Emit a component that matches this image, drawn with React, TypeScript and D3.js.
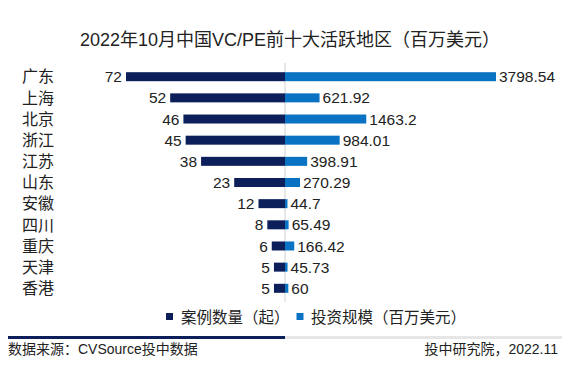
import React from "react";
import * as d3 from "d3";

const categories = ["广东", "上海", "北京", "浙江", "江苏", "山东", "安徽", "四川", "重庆", "天津", "香港"];
const caseCounts = [72, 52, 46, 45, 38, 23, 12, 8, 6, 5, 5];
const investments = [3798.54, 621.92, 1463.2, 984.01, 398.91, 270.29, 44.7, 65.49, 166.42, 45.73, 60];
const investLabels = ["3798.54", "621.92", "1463.2", "984.01", "398.91", "270.29", "44.7", "65.49", "166.42", "45.73", "60"];

const W = 584;
const H = 369;
const CX = 285;
const NAVY = "#0c1f5b";
const BLUE = "#0a72c3";
const FONT = "'Liberation Sans', 'Noto Sans CJK SC', sans-serif";

export default function App() {
  const y = d3.scalePoint<string>().domain(categories).range([76.7, 288.3]);
  const xL = d3.scaleLinear().domain([0, 72]).range([0, 159]);
  const xR = d3.scaleLinear().domain([0, 3798.54]).range([0, 211]);
  const barH = 9;

  return (
    <svg width={W} height={H} style={{ position: "absolute", left: 0, top: 0, background: "#fff" }} fontFamily={FONT}>
      <rect width={W} height={H} fill="#fff" />
      <text x={290} y={46} textAnchor="middle" fontSize={18} fill="#222">
        2022年10月中国VC/PE前十大活跃地区（百万美元）
      </text>
      <line x1={CX} x2={CX} y1={63} y2={302} stroke="#d0d0d0" strokeWidth={1} />
      {categories.map((c, i) => {
        const cy = y(c)!;
        const wl = xL(caseCounts[i]);
        const wr = xR(investments[i]);
        return (
          <g key={c}>
            <text x={22} y={cy} dy="0.36em" fontSize={16} fill="#222">{c}</text>
            <rect x={CX - wl} y={cy - barH / 2} width={wl} height={barH} fill={NAVY} />
            <rect x={CX} y={cy - barH / 2} width={wr} height={barH} fill={BLUE} />
            <text x={CX - wl - 4} y={cy} dy="0.36em" textAnchor="end" fontSize={15.5} fill="#222">{caseCounts[i]}</text>
            <text x={CX + wr + 3} y={cy} dy="0.36em" fontSize={15.5} fill="#222">{investLabels[i]}</text>
          </g>
        );
      })}
      <rect x={166} y={313} width={7} height={7} fill={NAVY} />
      <text x={181} y={317} dy="0.36em" fontSize={15.5} fill="#222">案例数量（起）</text>
      <rect x={296.5} y={313} width={7} height={7} fill={BLUE} />
      <text x={311} y={317} dy="0.36em" fontSize={15.5} fill="#222">投资规模（百万美元）</text>
      <line x1={CX} x2={562} y1={337.5} y2={337.5} stroke="#e6e6e6" strokeWidth={3} />
      <line x1={8} x2={CX} y1={337.5} y2={337.5} stroke={NAVY} strokeWidth={3} />
      <text x={8} y={354} fontSize={14} fill="#222">数据来源：CVSource投中数据</text>
      <text x={558} y={354} textAnchor="end" fontSize={14} fill="#222">投中研究院，2022.11</text>
    </svg>
  );
}
